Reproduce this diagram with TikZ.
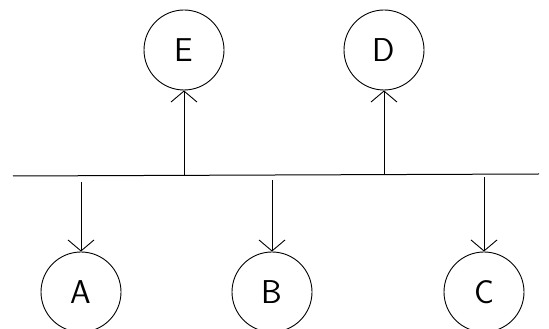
\documentclass[tikz,border=0pt]{standalone}
\usetikzlibrary{arrows.meta}
\begin{document}
\begin{tikzpicture}[x=1pt,y=1pt,
  ring/.style={draw, circle, line width=0.9pt, minimum size=80pt, inner sep=0pt,
    font=\sffamily\fontsize{33}{36}\selectfont},
  link/.style={line width=0.9pt, -{Straight Barb[length=11pt,width=26pt,line width=0.9pt]}},
  busline/.style={line width=1pt}]
\useasboundingbox (0,0) rectangle (549,329);
\node[ring] (E) at (184,279) {E};
\node[ring] (D) at (384,279) {D};
\node[ring] (A) at (81,37) {A};
\node[ring] (B) at (272,37) {B};
\node[ring] (C) at (484,37) {C};
\coordinate (bl) at (13,153);
\coordinate (br) at (539,155);
\draw[busline] (bl) -- (br);
\coordinate (te) at (184,154);
\coordinate (td) at (384,154.5);
\coordinate (ta) at (81,147);
\coordinate (tb) at (272,149);
\coordinate (tc) at (484,152);
\draw[link] (te) -- (E.south);
\draw[link] (td) -- (D.south);
\draw[link] (ta) -- (A.north);
\draw[link] (tb) -- (B.north);
\draw[link] (tc) -- (C.north);
\end{tikzpicture}
\end{document}
